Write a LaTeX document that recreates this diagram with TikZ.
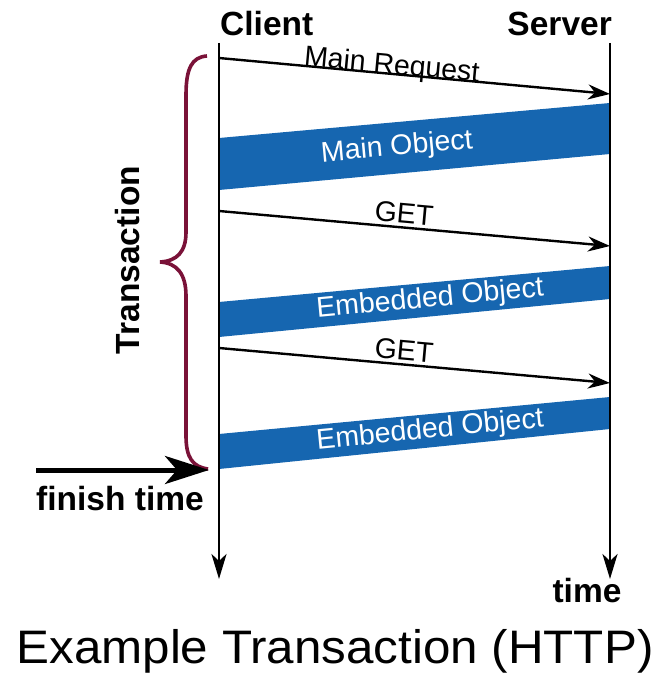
\documentclass[tikz,border=0pt]{standalone}
\usepackage{fontspec}
\setmainfont{Liberation Sans}
\usetikzlibrary{arrows.meta}
\definecolor{bandblue}{RGB}{22,102,176}
\definecolor{bracered}{RGB}{122,18,56}
\tikzset{
  lifeline/.style={line width=2.8pt,-{Stealth[length=25pt,width=15pt,inset=7pt]}},
  msg/.style={line width=2.4pt,-{Stealth[length=22pt,width=15pt,inset=7pt]}},
  band/.style={fill=bandblue,draw=none},
  head/.style={font=\fontsize{33.5}{33.5}\selectfont\bfseries,inner sep=0pt},
  msglabel/.style={font=\fontsize{28.5}{28.5}\selectfont,inner sep=0pt,sloped},
  bandlabel/.style={font=\fontsize{28.5}{28.5}\selectfont,text=white,inner sep=0pt,sloped},
}
\begin{document}
\begin{tikzpicture}[x=1pt,y=-1pt]
\useasboundingbox (0,0) rectangle (669,676);
% response bands
\fill[band] (219,138) -- (610,103) -- (610,154) -- (219,190) -- cycle;
\fill[band] (219,302) -- (610,266) -- (610,299) -- (219,337) -- cycle;
\fill[band] (219,434) -- (610,397) -- (610,429) -- (219,469) -- cycle;
\path (219,164) -- (610,128.5) node[bandlabel,pos=0.455] (mainobj) {Main Object};
\path (219,319.5) -- (610,282.5) node[bandlabel,pos=0.54] (emb1) {Embedded Object};
\path (219,451.5) -- (610,413) node[bandlabel,pos=0.54] (emb2) {Embedded Object};
% lifelines
\coordinate (cTop) at (219,43);
\coordinate (cBot) at (219,579);
\coordinate (sTop) at (610,43);
\coordinate (sBot) at (610,579);
\draw[lifeline] (cTop) -- (cBot);
\draw[lifeline] (sTop) -- (sBot);
\node[head,anchor=base west] (client) at (220,36) {Client};
\node[head,anchor=base east] (server) at (612,36) {Server};
\node[head,anchor=base] (time) at (587,602) {time};
% requests
\coordinate (req1) at (219,58);
\coordinate (srv1) at (610,94);
\coordinate (req2) at (219,211);
\coordinate (srv2) at (610,246);
\coordinate (req3) at (219,348);
\coordinate (srv3) at (610,383);
\draw[msg] (req1) -- (srv1) node[msglabel,pos=0.44,anchor=base] (mainreq) {Main Request};
\draw[msg] (req2) -- (srv2) node[msglabel,pos=0.47,anchor=south,inner sep=3pt] (get1) {GET};
\draw[msg] (req3) -- (srv3) node[msglabel,pos=0.47,anchor=south,inner sep=3pt] (get2) {GET};
% transaction brace
\draw[bracered,line width=3.6pt] (207,56) .. controls (192,57) and (186,68) .. (186,95)
  -- (186,232) .. controls (186,252) and (177,261) .. (160,262)
  .. controls (177,263) and (186,274) .. (186,296)
  -- (186,436) .. controls (186,458) and (193,467) .. (208,469);
\node[head,rotate=90] (trans) at (128,260) {Transaction};
% finish time
\coordinate (ftStart) at (36,470);
\coordinate (ftEnd) at (209,470);
\draw[line width=5pt,-{Stealth[length=44pt,width=28pt,inset=12pt]}] (ftStart) -- (ftEnd);
\node[head,anchor=base] (finish) at (120,510) {finish time};
\node[font=\fontsize{47}{47}\selectfont,inner sep=0pt,anchor=base,xscale=1.05] (title) at (335,663) {Example Transaction (HTTP)};
\end{tikzpicture}
\end{document}
